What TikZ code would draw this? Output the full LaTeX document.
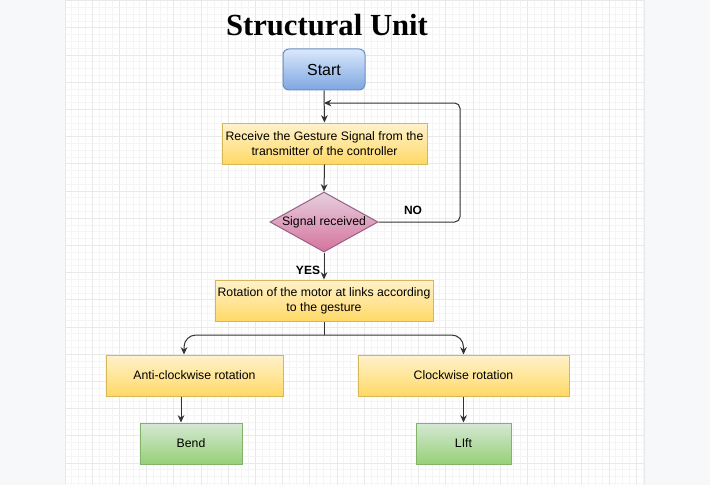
\documentclass[tikz,border=0pt]{standalone}
\usepackage{fontspec}
\setmainfont{Liberation Sans}
\newfontfamily\titlefont{Liberation Serif}
\usetikzlibrary{shapes.geometric,arrows.meta,calc}
\definecolor{panel}{HTML}{F7F8FA}
\definecolor{gridminor}{HTML}{F5F5F5}
\definecolor{gridmajor}{HTML}{E9E9E9}
\definecolor{edgecol}{HTML}{333333}
\tikzset{
  box/.style={rectangle, minimum height=30.75pt, inner sep=1pt, align=center,
    font=\fontsize{9.2}{11.5}\selectfont, line width=0.75pt},
  yellowbox/.style={box, top color={rgb,255:red,255;green,242;blue,204},
    bottom color={rgb,255:red,255;green,217;blue,102}, draw={rgb,255:red,214;green,182;blue,86}},
  greenbox/.style={box, top color={rgb,255:red,213;green,232;blue,212},
    bottom color={rgb,255:red,151;green,208;blue,119}, draw={rgb,255:red,130;green,179;blue,102}},
  startbox/.style={box, rounded corners=4.5pt, font=\fontsize{12}{14}\selectfont,
    top color={rgb,255:red,218;green,232;blue,252}, bottom color={rgb,255:red,126;green,166;blue,224},
    draw={rgb,255:red,108;green,142;blue,191}},
  decbox/.style={diamond, inner sep=0pt, minimum width=81pt, minimum height=45pt, line width=0.75pt,
    top color={rgb,255:red,230;green,208;blue,222}, bottom color={rgb,255:red,213;green,115;blue,157},
    draw={rgb,255:red,150;green,97;blue,133}},
  dectext/.style={font=\fontsize{9.2}{11}\selectfont, inner sep=0pt},
  conn/.style={draw=edgecol, line width=0.75pt, -{Stealth[length=5.5pt,width=5pt]}},
  plain/.style={draw=edgecol, line width=0.75pt},
  lbl/.style={font=\bfseries\fontsize{9}{11}\selectfont, inner sep=0pt},
}
\begin{document}
\begin{tikzpicture}[x=0.75pt,y=-0.75pt]
\useasboundingbox (0,0) rectangle (710,485);
% background
\fill[panel] (0,0) rectangle (710,485);
\fill[white] (65,0) rectangle (644,485);
\foreach \i in {0,...,85} \draw[gridminor, line width=0.5pt] (65+\i*6.8,0) -- (65+\i*6.8,485);
\foreach \i in {0,...,71} \draw[gridminor, line width=0.5pt] (65,0.5+\i*6.8) -- (644,0.5+\i*6.8);
\foreach \i in {0,...,21} \draw[gridmajor, line width=0.5pt] (65+\i*27.2,0) -- (65+\i*27.2,485);
\foreach \i in {0,...,17} \draw[gridmajor, line width=0.5pt] (65,0.5+\i*27.2) -- (644,0.5+\i*27.2);
\draw[gridmajor, line width=0.75pt] (644,0) -- (644,485);

% title
\node (title) at (327,25) {\titlefont\bfseries\fontsize{23}{26}\selectfont Structural Unit};

% nodes
\node[startbox, minimum width=61.5pt] (start) at (324,69.5) {Start};
\node[yellowbox, minimum width=153.75pt] (recv) at (324.5,143.5) {Receive the Gesture Signal from the\\transmitter of the controller};
\node[decbox, label={[dectext]center:Signal received}] (dec) at (324,222) {};
\node[yellowbox, minimum width=163.5pt] (rot) at (324,300.5) {Rotation of the motor at links according\\to the gesture};
\node[yellowbox, minimum width=132.75pt] (anti) at (194.5,375.5) {Anti-clockwise rotation};
\node[yellowbox, minimum width=158.25pt] (clock) at (463.5,375.5) {Clockwise rotation};
\node[greenbox, minimum width=76.5pt] (bend) at (191,443.5) {Bend};
\node[greenbox, minimum width=71.25pt] (lift) at (463.5,443.5) {LIft};

% labels
\node[lbl] (no) at (413,210) {NO};
\node[lbl] (yes) at (308,270) {YES};

% helper coordinates
\coordinate (nr) at (460,222);
\coordinate (nt) at (460,103);
\coordinate (jn) at (324,103);
\coordinate (sp) at (324,335);
\coordinate (sl) at (184,0);
\coordinate (bl) at (181,0);

% connectors
\draw[conn] (start.south) -- (recv.north);
\draw[conn, rounded corners=4pt] (dec.east) -- (nr) -- (nt) -- (jn);
\draw[conn] (recv.south) -- (dec.north);
\draw[conn] (dec.south) -- (rot.north);
\draw[plain] (rot.south) -- (sp);
\draw[conn, rounded corners=9pt] (sp) -| (anti.north -| sl);
\draw[conn, rounded corners=9pt] (sp) -| (clock.north);
\draw[conn] (anti.south -| bl) -- (bend.north -| bl);
\draw[conn] (clock.south) -- (lift.north);
\end{tikzpicture}
\end{document}
